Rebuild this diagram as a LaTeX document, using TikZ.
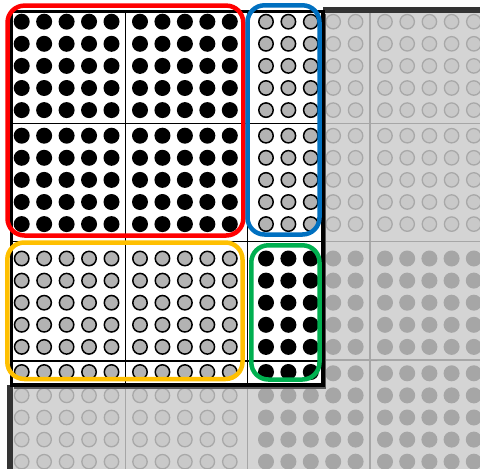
\documentclass[tikz,border=0pt]{standalone}
\definecolor{bggray}{HTML}{D4D4D4}
\definecolor{gridgray}{HTML}{A6A6A6}
\definecolor{odotfill}{HTML}{C9C9C9}
\definecolor{odotline}{HTML}{A8A8A8}
\definecolor{fdotgray}{HTML}{A6A6A6}
\definecolor{framegray}{HTML}{333333}
\definecolor{wdotfill}{HTML}{B3B3B3}
\definecolor{boxred}{HTML}{FF0000}
\definecolor{boxblue}{HTML}{0070C0}
\definecolor{boxyellow}{HTML}{FFC000}
\definecolor{boxgreen}{HTML}{00B050}
\tikzset{
  bgline/.style={gridgray, line width=1.5},
  wline/.style={black, line width=1.3},
  bgodot/.style={fill=odotfill, draw=odotline, line width=1.3},
  bgfdot/.style={fill=fdotgray},
  blackdot/.style={fill=black},
  greydot/.style={fill=wdotfill, draw=black, line width=1.5},
  partbox/.style={line width=4.5, rounded corners=17},
}
\begin{document}
\begin{tikzpicture}[x=1pt,y=-1pt]
\useasboundingbox (0,0) rectangle (480,469);
\begin{scope}
\clip (0,0) rectangle (480,469);
% background
\fill[bggray] (10,10) rectangle (482,471);
\foreach \gx in {125.7,247.5,370} \draw[bgline] (\gx,10) -- (\gx,471);
\foreach \gy in {123.3,241.7,360} \draw[bgline] (10,\gy) -- (482,\gy);
\foreach \cx [count=\ci] in {21.7,44.15,66.6,89.05,111.5,140,162.45,184.9,207.35,229.8,266,288.4,310.8,333.2,355.6,385,407.2,429.4,451.6,473.8}{
  \foreach \cy [count=\cj] in {21.7,43.8,65.9,88,110.1,135.7,157.8,179.9,202,224.1,258.5,280.6,302.7,324.8,346.9,373.3,395.4,417.5,439.6,461.7}{
    \ifnum\ci>10 \ifnum\cj>10
      \fill[bgfdot] (\cx,\cy) circle (8);
    \else
      \draw[bgodot] (\cx,\cy) circle (7.2);
    \fi\else
      \draw[bgodot] (\cx,\cy) circle (7.2);
    \fi
  }
}
\draw[framegray, line width=6] (10.3,471) -- (10.3,9.7) -- (482,9.7);
\end{scope}
% white region
\fill[white] (7,7) rectangle (323,385);
\draw[black!65, line width=1.8] (325.5,14) -- (325.5,387.8) -- (14,387.8);
\foreach \gx in {125.7,247.5} \draw[wline] (\gx,11.5) -- (\gx,385);
\foreach \gy in {123.3,241.7,361} \draw[wline] (11.7,\gy) -- (323,\gy);
\foreach \cx [count=\ci] in {21.7,44.15,66.6,89.05,111.5,140,162.45,184.9,207.35,229.8,266,288.4,310.8}{
  \foreach \cy [count=\cj] in {21.7,43.8,65.9,88,110.1,135.7,157.8,179.9,202,224.1,258.5,280.6,302.7,324.8,346.9,372}{
    \ifnum\ci>10
      \ifnum\cj>10 \fill[blackdot] (\cx,\cy) circle (8);
      \else \draw[greydot] (\cx,\cy) circle (7.2); \fi
    \else
      \ifnum\cj>10 \draw[greydot] (\cx,\cy) circle (7.2);
      \else \fill[blackdot] (\cx,\cy) circle (8); \fi
    \fi
  }
}
\draw[black, line width=3.4] (11.7,11.5) rectangle (323,385);
% partial product boxes
\draw[partbox, boxred] (7.5,5.6) rectangle (243.3,235.5);
\draw[partbox, boxblue] (247.5,5.3) rectangle (319.5,234.5);
\draw[partbox, boxyellow] (7.3,242.5) rectangle (242.5,379);
\draw[partbox, boxgreen] (251.3,245.3) rectangle (319.5,379.5);
\end{tikzpicture}
\end{document}
